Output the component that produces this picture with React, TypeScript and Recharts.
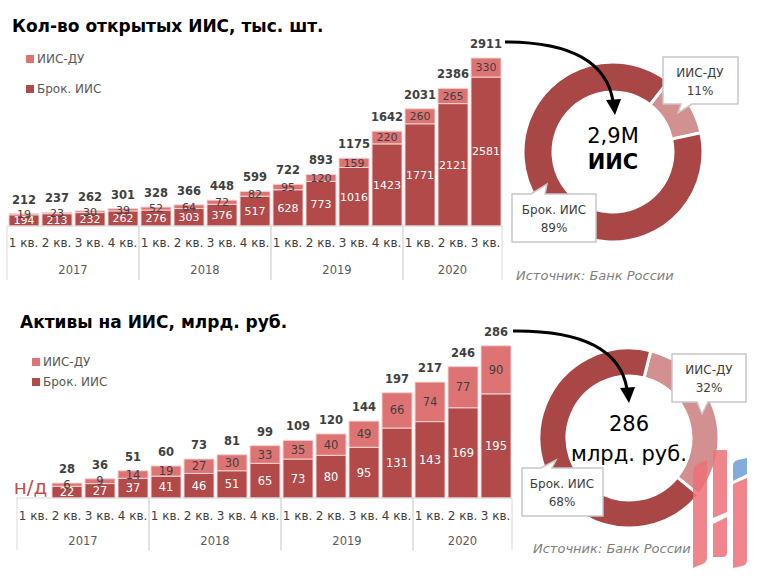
import React from 'react';
import { BarChart, Bar, XAxis, YAxis, LabelList, PieChart, Pie, Cell, ReferenceDot } from 'recharts';

const FONT = '"DejaVu Sans", Verdana, sans-serif';
const DARK = '#B14A48';
const LIGHT = '#DE7373';
const PIE_DARK = '#A94746';
const PIE_LIGHT = '#D29090';
const TEXT = '#404040';
const GRID = '#D9D9D9';

// подписи оси
const quarters = ['1 кв.', '2 кв.', '3 кв.', '4 кв.', '1 кв.', '2 кв.', '3 кв.', '4 кв.', '1 кв.', '2 кв.', '3 кв.', '4 кв.', '1 кв.', '2 кв.', '3 кв.'];
const years = ['2017', '2017', '2017', '2017', '2018', '2018', '2018', '2018', '2019', '2019', '2019', '2019', '2020', '2020', '2020'];

// количество ИИС, тыс. шт.
const countBrok = [194, 213, 232, 262, 276, 303, 376, 517, 628, 773, 1016, 1423, 1771, 2121, 2581];
const countDu = [19, 23, 30, 39, 52, 64, 72, 82, 95, 120, 159, 220, 260, 265, 330];
const countTotal = [212, 237, 262, 301, 328, 366, 448, 599, 722, 893, 1175, 1642, 2031, 2386, 2911];

// активы, млрд. руб.
const assetBrok = [null, 22, 27, 37, 41, 46, 51, 65, 73, 80, 95, 131, 143, 169, 195];
const assetDu = [null, 6, 9, 14, 19, 27, 30, 33, 35, 40, 49, 66, 74, 77, 90];
const assetTotal = [null, 28, 36, 51, 60, 73, 81, 99, 109, 120, 144, 197, 217, 246, 286];

// доли, %
const countShare = [
  { name: 'ИИС-ДУ', value: 11 },
  { name: 'Брок. ИИС', value: 89 },
];
const assetShare = [
  { name: 'ИИС-ДУ', value: 32 },
  { name: 'Брок. ИИС', value: 68 },
];

const makeRows = (brok: (number | null)[], du: (number | null)[], total: (number | null)[]) =>
  quarters.map((q, i) => ({
    id: `${years[i]} ${q}`,
    quarter: q,
    year: years[i],
    brok: brok[i],
    du: du[i],
    total: total[i],
  }));

const countRows = makeRows(countBrok, countDu, countTotal);
const assetRows = makeRows(assetBrok, assetDu, assetTotal);

interface StackProps {
  data: any[];
  width: number;
  height: number;
  margin: { top: number; right: number; left: number; bottom: number };
  yMax: number;
  lineLen: number;
  quarterDy: number;
  yearDy: number;
  labelSize: number;
  note?: string;
}

const AXIS_H = 60;

function StackChart({ data, width, height, margin, yMax, lineLen, quarterDy, yearDy, labelSize, note }: StackProps) {
  const axisY = height - margin.bottom - AXIS_H;
  const step = (width - margin.left - margin.right) / data.length;

  const renderTick = (p: any) => {
    const i = p.payload.index;
    const x = p.x;
    const yr = years[i];
    const first = i === 0 || years[i - 1] !== yr;
    const last = i === years.length - 1 || years[i + 1] !== yr;
    const n = years.filter((v) => v === yr).length;
    return (
      <g>
        <text x={x} y={axisY + quarterDy} textAnchor="middle" dominantBaseline="central"
          fontSize={12} fill={TEXT} fontFamily={FONT}>{quarters[i]}</text>
        {first && (
          <line x1={x - step / 2} x2={x - step / 2} y1={axisY} y2={axisY + lineLen} stroke={GRID} />
        )}
        {last && (
          <line x1={x + step / 2} x2={x + step / 2} y1={axisY} y2={axisY + lineLen} stroke={GRID} />
        )}
        {first && (
          <text x={x + ((n - 1) * step) / 2} y={axisY + yearDy} textAnchor="middle" dominantBaseline="central"
            fontSize={11.5} fill="#595959" fontFamily={FONT}>{yr}</text>
        )}
      </g>
    );
  };

  return (
    <BarChart width={width} height={height} data={data} margin={margin} barSize={30}>
      <XAxis dataKey="id" axisLine={{ stroke: GRID }} tickLine={false} interval={0}
        height={AXIS_H} tick={renderTick} />
      <YAxis hide domain={[0, yMax]} />
      <Bar dataKey="brok" stackId="a" fill={DARK} stroke="#F3D3D3" strokeWidth={1} isAnimationActive={false}>
        <LabelList dataKey="brok" position="center" fill="#FFFFFF" fontSize={labelSize} fontFamily={FONT} />
      </Bar>
      <Bar dataKey="du" stackId="a" fill={LIGHT} stroke="#F3D3D3" strokeWidth={1} isAnimationActive={false}>
        <LabelList dataKey="du" position="center" fill={TEXT} fontSize={labelSize} fontFamily={FONT} />
        <LabelList dataKey="total" position="top" offset={10} fill={TEXT} fontSize={11.5}
          fontWeight="bold" fontFamily={FONT} />
      </Bar>
      {note && (
        <ReferenceDot x={data[0].id} y={0} r={0} ifOverflow="visible"
          label={{ value: note, position: 'top', offset: 4, dx: -3, fill: '#C0504D', fontSize: 20, fontFamily: FONT }} />
      )}
    </BarChart>
  );
}

function Donut({ data, startAngle, inner }: { data: { name: string; value: number }[]; startAngle: number; inner: number }) {
  return (
    <PieChart width={184} height={184} margin={{ top: 0, right: 0, bottom: 0, left: 0 }}>
      <Pie data={data} dataKey="value" cx={92} cy={92} innerRadius={inner} outerRadius={90}
        startAngle={startAngle} endAngle={startAngle - 360} stroke="#FFFFFF" strokeWidth={3}
        isAnimationActive={false}>
        <Cell fill={PIE_LIGHT} />
        <Cell fill={PIE_DARK} />
      </Pie>
    </PieChart>
  );
}

const legendItem = (color: string, label: string, left: number, top: number) => (
  <div style={{ position: 'absolute', left, top, display: 'flex', alignItems: 'center', fontFamily: FONT, fontSize: 12, color: '#595959' }}>
    <span style={{ display: 'inline-block', width: 8, height: 8, background: color, marginRight: 3 }} />
    {label}
  </div>
);

const titleStyle = (left: number, top: number): React.CSSProperties => ({
  position: 'absolute', left, top, fontFamily: FONT, fontWeight: 'bold', fontSize: 17, color: '#000',
});

const sourceStyle = (left: number, top: number): React.CSSProperties => ({
  position: 'absolute', left, top, fontFamily: FONT, fontStyle: 'italic', fontSize: 13, color: '#808080',
});

function Callout({ d, x, y1, y2, a, b }: { d: string; x: number; y1: number; y2: number; a: string; b: string }) {
  return (
    <g>
      <path d={d} fill="#FFFFFF" stroke="#C8C8C8" strokeWidth={1.5} />
      <text x={x} y={y1} textAnchor="middle" dominantBaseline="central" fontSize={12} fill={TEXT} fontFamily={FONT}>{a}</text>
      <text x={x} y={y2} textAnchor="middle" dominantBaseline="central" fontSize={12} fill={TEXT} fontFamily={FONT}>{b}</text>
    </g>
  );
}

export default function App() {
  return (
    <div style={{ position: 'absolute', left: 0, top: 0, width: 768, height: 578, background: '#fff', overflow: 'hidden' }}>
      <div style={titleStyle(12, 16)}>Кол-во открытых ИИС, тыс. шт.</div>
      {legendItem(LIGHT, 'ИИС-ДУ', 26, 52)}
      {legendItem(DARK, 'Брок. ИИС', 26, 82)}

      <div style={{ position: 'absolute', left: 0, top: 0 }}>
        <StackChart data={countRows} width={520} height={300}
          margin={{ top: 20, right: 18, left: 7, bottom: 14 }} yMax={3570}
          lineLen={54} quarterDy={17} yearDy={44} labelSize={11} />
      </div>

      <div style={titleStyle(20, 312)}>Активы на ИИС, млрд. руб.</div>
      {legendItem(LIGHT, 'ИИС-ДУ', 32, 355)}
      {legendItem(DARK, 'Брок. ИИС', 32, 375)}

      <div style={{ position: 'absolute', left: 0, top: 290 }}>
        <StackChart data={assetRows} width={530} height={280}
          margin={{ top: 20, right: 18, left: 17, bottom: 12 }} yMax={352}
          lineLen={52} quarterDy={18} yearDy={43} labelSize={11.5} note="н/д" />
      </div>

      <div style={{ position: 'absolute', left: 521, top: 60 }}>
        <Donut data={countShare} startAngle={52} inner={60} />
      </div>
      <div style={{ position: 'absolute', left: 537, top: 346 }}>
        <Donut data={assetShare} startAngle={76} inner={62} />
      </div>

      <div style={sourceStyle(516, 268)}>Источник: Банк России</div>
      <div style={sourceStyle(533, 541)}>Источник: Банк России</div>

      <svg width={768} height={578} style={{ position: 'absolute', left: 0, top: 0, pointerEvents: 'none' }}>
        {/* центр кольца */}
        <text x={613} y={136} textAnchor="middle" dominantBaseline="central" fontSize={21} fontFamily={FONT} fill="#000">2,9М</text>
        <text x={613} y={162} textAnchor="middle" dominantBaseline="central" fontSize={21} fontWeight="bold" fontFamily={FONT} fill="#000">ИИС</text>
        <text x={629} y={424} textAnchor="middle" dominantBaseline="central" fontSize={21} fontFamily={FONT} fill="#000">286</text>
        <text x={629} y={454} textAnchor="middle" dominantBaseline="central" fontSize={21} fontFamily={FONT} fill="#000">млрд. руб.</text>

        {/* стрелки */}
        <path d="M 505 42 Q 603 42 613 101" fill="none" stroke="#000" strokeWidth={3} />
        <polygon points="606,100 621,99 615,115" fill="#000" />
        <path d="M 513 331 Q 617 330 627 389" fill="none" stroke="#000" strokeWidth={3} />
        <polygon points="620,388 635,387 629,403" fill="#000" />

        {/* выноски */}
        <Callout d="M663 57 H738 V104 H692 L678 113 L681 104 H663 Z" x={700} y1={73} y2={91} a="ИИС-ДУ" b="11%" />
        <Callout d="M512 194 H531 L547 184 L545 194 H596 V242 H512 Z" x={554} y1={210} y2={228} a="Брок. ИИС" b="89%" />
        <Callout d="M672 354 H746 V402 H708 L702 414 L697 402 H672 Z" x={709} y1={370} y2={388} a="ИИС-ДУ" b="32%" />
        <Callout d="M522 468 H541 L556 460 L552 468 H603 V516 H522 Z" x={562} y1={484} y2={502} a="Брок. ИИС" b="68%" />

        {/* логотип */}
        <g opacity={0.85}>
          <path d="M693 473 Q693 466 700 463 L707 460 V558 Q707 563 700 565 L693 568 Z" fill="#EE7079" />
          <path d="M713 455 Q713 450 718 450 L727 450 V512 L713 518 Z" fill="#EE7079" />
          <path d="M713 524 L727 517 V553 Q727 557 722 557 L713 557 Z" fill="#EE7079" />
          <path d="M733 484 L747 478 V560 Q747 565 742 566 L733 568 Z" fill="#EE7079" />
          <path d="M733 466 Q733 461 738 460 L747 458 V474 L733 481 Z" fill="#6D9FD5" />
        </g>
      </svg>
    </div>
  );
}
